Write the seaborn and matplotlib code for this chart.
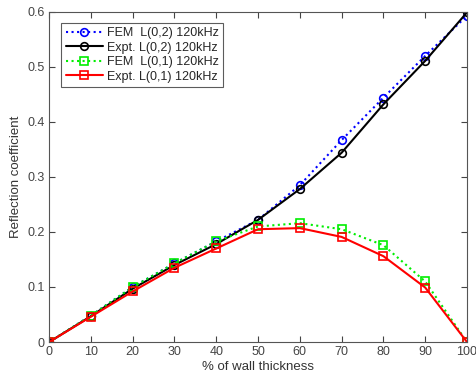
import matplotlib
matplotlib.use("Agg")
import matplotlib.pyplot as plt
import seaborn as sns
import pandas as pd

thickness = [0, 10, 20, 30, 40, 50, 60, 70, 80, 90, 100]
fem_l02 = [0, 0.048, 0.100, 0.143, 0.183, 0.222, 0.285, 0.367, 0.444, 0.520, 0.593]
expt_l02 = [0, 0.047, 0.097, 0.140, 0.178, 0.222, 0.278, 0.344, 0.432, 0.511, 0.599]
fem_l01 = [0, 0.048, 0.100, 0.143, 0.183, 0.210, 0.216, 0.205, 0.176, 0.110, 0]
expt_l01 = [0, 0.046, 0.092, 0.135, 0.170, 0.205, 0.207, 0.191, 0.156, 0.099, 0]
labels = ["FEM  L(0,2) 120kHz", "Expt. L(0,2) 120kHz", "FEM  L(0,1) 120kHz", "Expt. L(0,1) 120kHz"]

sns.set_theme(style="ticks")
plt.rcParams['font.family'] = ['Liberation Sans', 'DejaVu Sans']

fig = plt.figure(figsize=(4.77, 3.83), dpi=100)
ax = fig.add_axes([0.103, 0.107, 0.876, 0.862])

series = [fem_l02, expt_l02, fem_l01, expt_l01]
colors = ["#0000ff", "#000000", "#00ee00", "#ff0000"]
styles = [":", "-", ":", "-"]
markers = ["o", "o", "s", "s"]
for vals, lab, c, ls, m in zip(series, labels, colors, styles, markers):
    df = pd.DataFrame({"x": thickness, "y": vals})
    sns.lineplot(data=df, x="x", y="y", ax=ax, color=c, linestyle=ls, marker=m,
                 markersize=5.5, markerfacecolor="none", markeredgecolor=c,
                 markeredgewidth=1.2, linewidth=1.5, label=lab)

ax.set_xlim(0, 100)
ax.set_ylim(0, 0.6)
ax.set_xticks(range(0, 101, 10))
ax.set_yticks([0, 0.1, 0.2, 0.3, 0.4, 0.5, 0.6])
ax.set_yticklabels(["0", "0.1", "0.2", "0.3", "0.4", "0.5", "0.6"])
ax.set_xlabel("% of wall thickness", fontsize=9.5, color="#333333", labelpad=2)
ax.set_ylabel("Reflection coefficient", fontsize=9.5, color="#333333", labelpad=4)
ax.tick_params(direction="in", top=True, right=True, labelsize=9, colors="#444444",
               length=4, width=0.8, pad=3)
for sp in ax.spines.values():
    sp.set_visible(True)
    sp.set_color("#555555")
    sp.set_linewidth(0.8)

leg = ax.legend(loc="upper left", bbox_to_anchor=(0.029, 0.967), fontsize=9,
                frameon=True, fancybox=False, edgecolor="#333333",
                handlelength=3.0, borderpad=0.35, labelspacing=0.2, handletextpad=0.3,
                borderaxespad=0)
leg.get_frame().set_linewidth(0.8)

fig.savefig("out.png", dpi=100)
